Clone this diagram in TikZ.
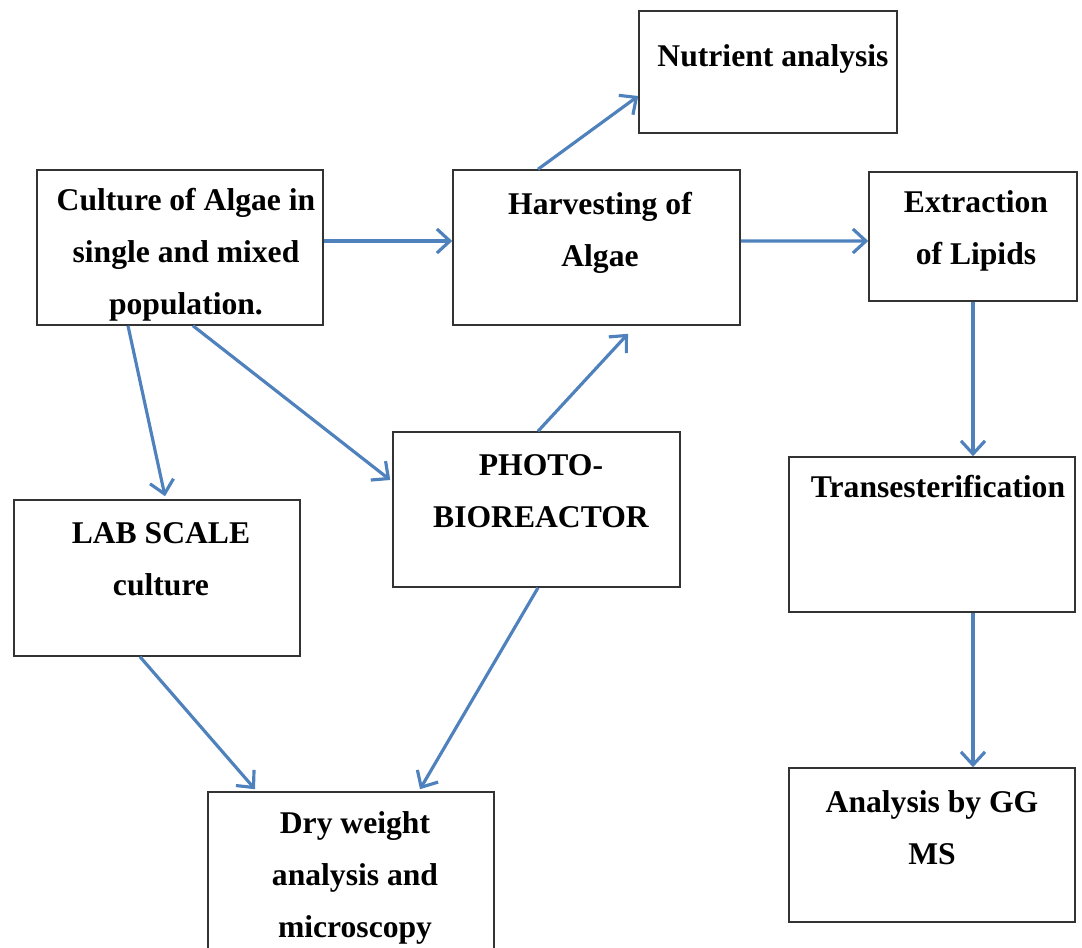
\documentclass[tikz,border=0pt]{standalone}
\usepackage{fontspec}
\setmainfont{Liberation Serif}
\usepackage{tikz}
\usetikzlibrary{arrows.meta}

\definecolor{flowblue}{RGB}{79,129,189}

\begin{document}
\begin{tikzpicture}[
				x=0.02cm, y=-0.02cm,
				box/.style={
						draw=black!80,
						rectangle,
						line width=0.9pt,
						inner sep=0pt
					},
				label/.style={
						anchor=base,
						align=center,
						inner sep=0pt,
						font=\fontsize{18}{29.5}\selectfont\bfseries
					},
				arrow/.style={flowblue, line width=1.8pt,
						-{Straight Barb[length=0.26cm, width=0.48cm, line width=1.8pt]}}
			]
		\clip (0,0) rectangle (1082,947);

		% Boxes
		\node[box, minimum width=5.16cm, minimum height=2.44cm] (nutrient) at (768,72) {};
		\node[box, minimum width=5.72cm, minimum height=3.10cm] (culture) at (180,247.5) {};
		\node[box, minimum width=5.74cm, minimum height=3.10cm] (harvest) at (596.5,247.5) {};
		\node[box, minimum width=4.16cm, minimum height=2.58cm] (extract) at (973,236.5) {};
		\node[box, minimum width=5.74cm, minimum height=3.10cm] (photo) at (536.5,509.5) {};
		\node[box, minimum width=5.72cm, minimum height=3.12cm] (lab) at (157,578) {};
		\node[box, minimum width=5.72cm, minimum height=3.10cm] (trans) at (932,534.5) {};
		\node[box, minimum width=5.72cm, minimum height=3.20cm] (dry) at (351,872) {};
		\node[box, minimum width=5.72cm, minimum height=3.08cm] (gcms) at (932,845) {};

		% Texts (anchored at the baseline of the last line)
		\node[label] (nutrient-txt) at (773,66) {Nutrient analysis};
		\node[label] (culture-txt) at (186,314) {Culture of Algae in\\single and mixed\\population.};
		\node[label] (harvest-txt) at (600,266) {Harvesting of\\Algae};
		\node[label] (extract-txt) at (976,264) {Extraction\\of Lipids};
		\node[label] (photo-txt) at (541,527) {PHOTO-\\BIOREACTOR};
		\node[label] (lab-txt) at (161,595) {LAB SCALE\\culture};
		\node[label] (trans-txt) at (938,497) {Transesterification};
		\node[label] (dry-txt) at (355,937) {Dry weight\\analysis and\\microscopy};
		\node[label] (gcms-txt) at (932,864) {Analysis by GG\\MS};

		% Arrows
		\draw[arrow] ([xshift=-1.17cm]harvest.north) -- ([yshift=-0.48cm]nutrient.west);
		\draw[arrow] ([yshift=0.13cm]culture.east) -- ([yshift=0.13cm]harvest.west);
		\draw[arrow] ([yshift=0.13cm]harvest.east) -- ([yshift=-0.09cm]extract.west);
		\draw[arrow] (extract.south) -- (extract.south |- trans.north);
		\draw[arrow] ([xshift=0.82cm]trans.south) -- ([xshift=0.82cm]gcms.north);
		\draw[arrow] ([xshift=-1.04cm]culture.south) -- ([xshift=0.16cm, yshift=0.06cm]lab.north);
		\draw[arrow] ([xshift=0.26cm]culture.south) -- ([xshift=-0.04cm, yshift=0.59cm]photo.west);
		\draw[arrow] ([xshift=0.03cm]photo.north) -- ([xshift=0.63cm, yshift=-0.16cm]harvest.south);
		\draw[arrow] ([xshift=-0.34cm]lab.south) -- ([xshift=-1.92cm, yshift=0.04cm]dry.north);
		\draw[arrow] ([xshift=0.03cm]photo.south) -- ([xshift=1.38cm, yshift=0.04cm]dry.north);
	\end{tikzpicture}
\end{document}
